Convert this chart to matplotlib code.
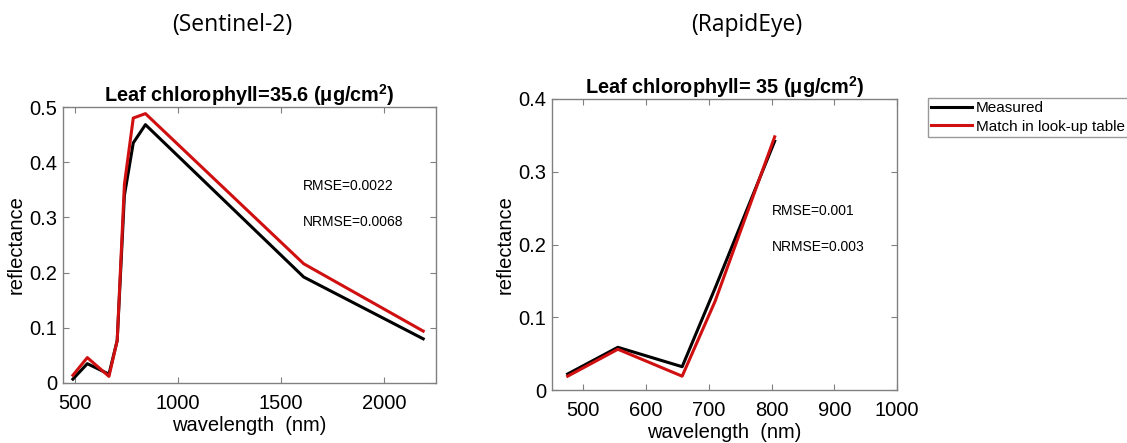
import matplotlib
matplotlib.use("Agg")
import matplotlib.pyplot as plt

# Sentinel-2 data
s2_wl = [490, 560, 665, 705, 740, 783, 842, 1610, 2190]
s2_measured = [0.007, 0.035, 0.016, 0.077, 0.34, 0.435, 0.468, 0.192, 0.080]
s2_lut = [0.014, 0.046, 0.012, 0.077, 0.36, 0.480, 0.488, 0.216, 0.094]

# RapidEye data
re_wl = [475, 555, 657.5, 710, 805]
re_measured = [0.022, 0.0587, 0.032, 0.14, 0.342]
re_lut = [0.019, 0.056, 0.019, 0.122, 0.348]

W, H = 1127, 443
fig = plt.figure(figsize=(W / 100, H / 100), dpi=100)
plt.rcParams['font.family'] = ['Liberation Sans', 'DejaVu Sans']

def ax_at(l, t, r, b):
    return fig.add_axes([l / W, 1 - b / H, (r - l) / W, (b - t) / H])

spine_col = '#808080'

def style(ax):
    for s in ax.spines.values():
        s.set_color(spine_col)
        s.set_linewidth(1.0)
    ax.tick_params(direction='in', top=True, right=True, color=spine_col,
                   labelsize=14.5, length=4, labelcolor='black', pad=4)
    ax.tick_params(axis='x', pad=8)

# Left axes
ax1 = ax_at(63, 107, 436, 383)
ax1.plot(s2_wl, s2_measured, color='black', lw=2.2, label='Measured')
ax1.plot(s2_wl, s2_lut, color='#d01010', lw=2.2, label='Match in look-up table')
ax1.set_xlim(442, 2252)
ax1.set_ylim(0, 0.5)
ax1.set_xticks([500, 1000, 1500, 2000])
ax1.set_yticks([0, 0.1, 0.2, 0.3, 0.4, 0.5])
ax1.set_yticklabels(['0', '0.1', '0.2', '0.3', '0.4', '0.5'])
style(ax1)
ax1.set_xlabel('wavelength  (nm)', fontsize=14.5, labelpad=2)
ax1.set_ylabel('reflectance', fontsize=14.5, labelpad=3)
ax1.set_title('Leaf chlorophyll=35.6 (\u03bcg/cm$^\\mathregular{2}$)', fontsize=14.3,
              fontweight='bold', pad=4)
ax1.text(1607, 0.357, 'RMSE=0.0022', fontsize=10, va='center')
ax1.text(1607, 0.292, 'NRMSE=0.0068', fontsize=10, va='center')

# Right axes
ax2 = ax_at(552, 99, 897, 390)
ax2.plot(re_wl, re_measured, color='black', lw=2.2, label='Measured')
ax2.plot(re_wl, re_lut, color='#d01010', lw=2.2, label='Match in look-up table')
ax2.set_xlim(450, 1000)
ax2.set_ylim(0, 0.4)
ax2.set_xticks([500, 600, 700, 800, 900, 1000])
ax2.set_yticks([0, 0.1, 0.2, 0.3, 0.4])
ax2.set_yticklabels(['0', '0.1', '0.2', '0.3', '0.4'])
style(ax2)
ax2.set_xlabel('wavelength  (nm)', fontsize=14.5, labelpad=2)
ax2.set_ylabel('reflectance', fontsize=14.5, labelpad=3)
ax2.set_title('Leaf chlorophyll= 35 (\u03bcg/cm$^\\mathregular{2}$)', fontsize=14.3,
              fontweight='bold', pad=4)
ax2.text(800, 0.2455, 'RMSE=0.001', fontsize=10, va='center')
ax2.text(800, 0.197, 'NRMSE=0.003', fontsize=10, va='center')

# Legend (frame partially clipped by figure edge as in reference)
leg = ax2.legend(loc='upper left', bbox_to_anchor=(928 / W, 1 - 98 / H),
                 bbox_transform=fig.transFigure, fontsize=11.0, frameon=True,
                 fancybox=False, borderpad=0.2, handlelength=2.7,
                 handletextpad=0.25, labelspacing=0.3, borderaxespad=0)
leg.get_frame().set_edgecolor(spine_col)
leg.get_frame().set_linewidth(1.0)

# Panel headers
fig.text(232 / W, 1 - 25 / H, '(Sentinel-2)', fontsize=16.5, ha='center', va='center',
         family=['Open Sans', 'DejaVu Sans'])
fig.text(747 / W, 1 - 25 / H, '(RapidEye)', fontsize=16.5, ha='center', va='center',
         family=['Open Sans', 'DejaVu Sans'])

fig.savefig('out.png', dpi=100)
